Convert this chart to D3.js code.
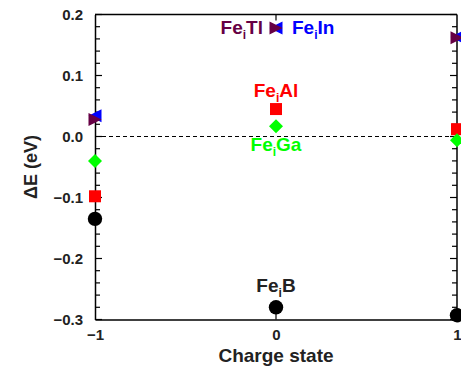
<!DOCTYPE html>
<html>
<head>
<meta charset="utf-8">
<script src="https://cdn.jsdelivr.net/npm/d3@7"></script>
<style>
  body { margin: 0; background: #fff; }
  text { font-family: "Liberation Sans", Arial, sans-serif; font-weight: bold; }
</style>
</head>
<body>
<script>
// charge states on x
var charges = [-1, 0, 1];

// formation energy differences per defect (eV)
var feB  = [-0.135, -0.280, -0.293];
var feAl = [-0.098,  0.045,  0.012];
var feGa = [-0.040,  0.017, -0.006];
var feIn = [ 0.034,  0.178,  0.163];
var feTl = [ 0.028,  0.178,  0.162];

var yTicks = [-0.3, -0.2, -0.1, 0.0, 0.1, 0.2];

// draw order: In before Tl so Tl sits on top
var series = [
  {name: "B",  vals: feB,  color: "#000000", shape: "circle"},
  {name: "Al", vals: feAl, color: "#ff0000", shape: "square"},
  {name: "Ga", vals: feGa, color: "#00ff00", shape: "diamond"},
  {name: "In", vals: feIn, color: "#0000ff", shape: "left"},
  {name: "Tl", vals: feTl, color: "#660044", shape: "right"}
];

var W = 461, H = 368;
var margin = {top: 14.5, right: 4, bottom: 48.5, left: 95};
var width = W - margin.left - margin.right,
    height = H - margin.top - margin.bottom;

var svg = d3.select("body").append("svg")
    .attr("width", W)
    .attr("height", H);

var g = svg.append("g")
    .attr("transform", "translate(" + margin.left + "," + margin.top + ")");

var x = d3.scaleLinear().domain([-1, 1]).range([0, width]);
var y = d3.scaleLinear().domain([-0.3, 0.2]).range([height, 0]);

var fmt = function(d) { return d3.format(".1f")(d).replace("-", "\u2212"); };

// minor ticks every 0.02
var minor = d3.range(-0.3, 0.2001, 0.02);
var isMajor = function(d) { return Math.abs(Math.round(d * 50) % 5) === 0; };

// left axis (ticks inside)
var left = g.append("g").call(d3.axisLeft(y).tickValues(yTicks).tickSize(0).tickPadding(12).tickFormat(fmt));
left.select(".domain").attr("stroke-width", 1.5);
left.selectAll("text").attr("font-size", 15).attr("fill", "#222");

g.append("g").selectAll("line").data(minor).enter().append("line")
    .attr("x1", 0).attr("x2", function(d) { return isMajor(d) ? 7 : 5; })
    .attr("y1", function(d) { return y(d); }).attr("y2", function(d) { return y(d); })
    .attr("stroke", "#000").attr("stroke-width", 1.2);

// right axis (ticks inside)
g.append("line").attr("x1", width).attr("x2", width).attr("y1", 0).attr("y2", height)
    .attr("stroke", "#000").attr("stroke-width", 1.5);
g.append("g").selectAll("line").data(minor).enter().append("line")
    .attr("x1", width).attr("x2", function(d) { return width - (isMajor(d) ? 7 : 5); })
    .attr("y1", function(d) { return y(d); }).attr("y2", function(d) { return y(d); })
    .attr("stroke", "#000").attr("stroke-width", 1.2);

// top border
g.append("line").attr("x1", 0).attr("x2", width).attr("y1", 0).attr("y2", 0)
    .attr("stroke", "#000").attr("stroke-width", 1.5);
g.append("line").attr("x1", x(0)).attr("x2", x(0)).attr("y1", 0).attr("y2", 6)
    .attr("stroke", "#000").attr("stroke-width", 1.2);

// bottom axis
var bottom = g.append("g").attr("transform", "translate(0," + height + ")")
    .call(d3.axisBottom(x).tickValues(charges).tickSize(0).tickPadding(10)
      .tickFormat(function(d) { return String(d).replace("-", "\u2212"); }));
bottom.select(".domain").attr("stroke-width", 1.5);
bottom.selectAll("text").attr("font-size", 15).attr("fill", "#222");
g.append("line").attr("x1", x(0)).attr("x2", x(0)).attr("y1", height).attr("y2", height - 6)
    .attr("stroke", "#000").attr("stroke-width", 1.2);

// zero line
g.append("line").attr("x1", 0).attr("x2", width).attr("y1", y(0)).attr("y2", y(0))
    .attr("stroke", "#000").attr("stroke-width", 1).attr("stroke-dasharray", "4,3");

// axis titles
svg.append("text")
    .attr("transform", "translate(37," + (margin.top + y(-0.05)) + ") rotate(-90)")
    .attr("text-anchor", "middle").attr("font-size", 18).attr("fill", "#222")
    .text("\u0394E (eV)");
svg.append("text")
    .attr("x", margin.left + x(0)).attr("y", H - 6)
    .attr("text-anchor", "middle").attr("font-size", 19).attr("fill", "#222")
    .text("Charge state");

// markers
var sym = {
  circle: function(s) { return "M" + (-s) + ",0A" + s + "," + s + " 0 1,1 " + s + ",0A" + s + "," + s + " 0 1,1 " + (-s) + ",0Z"; },
  square: function(s) { return "M" + (-s) + "," + (-s) + "H" + s + "V" + s + "H" + (-s) + "Z"; },
  diamond: function(s) { return "M0," + (-s) + "L" + s + ",0L0," + s + "L" + (-s) + ",0Z"; },
  right: function(s) { return "M" + (-s) + "," + (-s) + "L" + s + ",0L" + (-s) + "," + s + "Z"; },
  left: function(s) { return "M" + s + "," + (-s) + "L" + (-s) + ",0L" + s + "," + s + "Z"; }
};
var sizes = {circle: 7.2, square: 6, diamond: 7, right: 6.5, left: 6.5};

var marks = g.append("g");
series.forEach(function(s) {
  marks.selectAll(null).data(s.vals).enter().append("path")
      .attr("transform", function(d, i) { return "translate(" + x(charges[i]) + "," + y(d) + ")"; })
      .attr("d", sym[s.shape](sizes[s.shape]))
      .attr("fill", s.color);
});

// labels with subscript i
function label(name, color, cx, cy, anchor) {
  var t = g.append("text").attr("x", cx).attr("y", cy)
      .attr("text-anchor", anchor).attr("font-size", 19).attr("fill", color);
  t.append("tspan").text("Fe");
  t.append("tspan").attr("font-size", 12).attr("dy", 5).text("i");
  t.append("tspan").attr("dy", -5).text(name);
}
label("Tl", "#660044", x(0) - 13, y(0.168), "end");
label("In", "#0000ff", x(0) + 16, y(0.168), "start");
label("Al", "#ff0000", x(0), y(0.065), "middle");
label("Ga", "#00ff00", x(0), y(-0.024), "middle");
label("B",  "#222222", x(0), y(-0.255), "middle");
</script>
</body>
</html>
